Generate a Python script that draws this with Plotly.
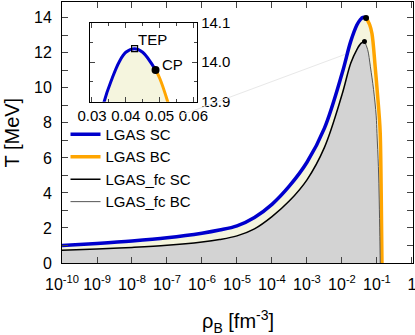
import plotly.graph_objects as go

# LGAS spinodal (SC) and binodal (BC) curves, rho_B in fm^-3, T in MeV
rho_sc = [1e-10, 1e-9, 1e-8, 1e-7, 1e-6, 3.16e-6, 1e-5, 3.16e-5, 1e-4, 3.16e-4,
          1e-3, 3.16e-3, 1e-2, 0.0178, 0.0269, 0.0336, 0.036, 0.038, 0.040, 0.0426,
          0.045, 0.0488]
T_sc = [1.0, 1.12, 1.26, 1.44, 1.7, 1.88, 2.12, 2.6, 3.35, 4.4,
        5.75, 7.7, 10.8, 12.65, 13.6, 13.9, 13.96, 14.0, 14.025, 14.034,
        14.025, 13.98]
rho_bc = [0.0488, 0.050, 0.0524, 0.062, 0.072, 0.089, 0.107, 0.116, 0.124, 0.133, 0.139]
T_bc = [13.98, 13.96, 13.9, 13.6, 13.1, 11.2, 9.3, 8.4, 7.4, 3.6, 0.0]

# LGAS_fc curves
rho_fsc = [1e-10, 1e-9, 1e-8, 1e-7, 1e-6, 3.16e-6, 1e-5, 3.16e-5, 1e-4, 3.16e-4,
           1e-3, 3.16e-3, 1e-2, 0.0178, 0.0269, 0.0355, 0.044]
T_fsc = [0.73, 0.8, 0.89, 1.01, 1.2, 1.34, 1.55, 1.95, 2.65, 3.55,
         4.75, 6.6, 9.6, 11.4, 12.2, 12.55, 12.65]
rho_fbc = [0.044, 0.054, 0.065, 0.08, 0.095, 0.1, 0.11, 0.116, 0.121, 0.124]
T_fbc = [12.65, 12.2, 11.2, 9.9, 8.4, 7.4, 5.5, 3.6, 1.5, 0.0]

# special points
tep = (0.0426, 14.034)
cp = (0.0488, 13.98)
cp_fc = (0.044, 12.65)

x_tickvals = [1e-10, 1e-9, 1e-8, 1e-7, 1e-6, 1e-5, 1e-4, 1e-3, 1e-2, 1e-1, 1]
x_ticktext = ["10<sup>-10</sup>", "10<sup>-9</sup>", "10<sup>-8</sup>", "10<sup>-7</sup>",
              "10<sup>-6</sup>", "10<sup>-5</sup>", "10<sup>-4</sup>", "10<sup>-3</sup>",
              "10<sup>-2</sup>", "10<sup>-1</sup>", "1"]

BLUE = "#0000cc"
ORANGE = "#ffa500"
BEIGE = "rgb(245,245,222)"
GREY = "rgb(211,211,211)"
FONT = "Liberation Sans, Arial, sans-serif"

fig = go.Figure()

# fills
fig.add_trace(go.Scatter(x=rho_sc + rho_bc[1:], y=T_sc + T_bc[1:], mode="lines",
                         fill="tozeroy", fillcolor=BEIGE, line=dict(width=0, shape="spline"),
                         showlegend=False, hoverinfo="skip"))
fig.add_trace(go.Scatter(x=rho_fsc + rho_fbc[1:], y=T_fsc + T_fbc[1:], mode="lines",
                         fill="tozeroy", fillcolor=GREY, line=dict(width=0, shape="spline"),
                         showlegend=False, hoverinfo="skip"))

# lines
fig.add_trace(go.Scatter(x=rho_sc, y=T_sc, mode="lines", name="LGAS SC",
                         line=dict(color=BLUE, width=3.5, shape="spline")))
fig.add_trace(go.Scatter(x=rho_bc, y=T_bc, mode="lines", name="LGAS BC",
                         line=dict(color=ORANGE, width=3.5, shape="spline")))
fig.add_trace(go.Scatter(x=rho_fsc, y=T_fsc, mode="lines", name="LGAS_fc SC",
                         line=dict(color="black", width=1.5, shape="spline")))
fig.add_trace(go.Scatter(x=rho_fbc, y=T_fbc, mode="lines", name="LGAS_fc BC",
                         line=dict(color="#555555", width=1, shape="spline")))

# critical points
fig.add_trace(go.Scatter(x=[cp[0]], y=[cp[1]], mode="markers", showlegend=False,
                         marker=dict(color="black", size=6)))
fig.add_trace(go.Scatter(x=[cp_fc[0]], y=[cp_fc[1]], mode="markers", showlegend=False,
                         marker=dict(color="black", size=5)))

# inset
in_sc = [(r, t) for r, t in zip(rho_sc, T_sc) if r > 0.02]
in_bc = [(r, t) for r, t in zip(rho_bc, T_bc) if r < 0.08]
in_all = in_sc + in_bc[1:]
fig.add_trace(go.Scatter(x=[p[0] for p in in_all], y=[p[1] for p in in_all],
                         xaxis="x2", yaxis="y2", mode="lines", fill="tozeroy",
                         fillcolor=BEIGE, line=dict(width=0, shape="spline"),
                         showlegend=False, hoverinfo="skip"))
fig.add_trace(go.Scatter(x=[p[0] for p in in_sc], y=[p[1] for p in in_sc],
                         xaxis="x2", yaxis="y2", mode="lines", showlegend=False,
                         line=dict(color=BLUE, width=3, shape="spline")))
fig.add_trace(go.Scatter(x=[p[0] for p in in_bc], y=[p[1] for p in in_bc],
                         xaxis="x2", yaxis="y2", mode="lines", showlegend=False,
                         line=dict(color=ORANGE, width=3, shape="spline")))
fig.add_trace(go.Scatter(x=[tep[0]], y=[tep[1]], xaxis="x2", yaxis="y2", mode="markers",
                         showlegend=False,
                         marker=dict(symbol="square-open", color="black", size=6,
                                     line=dict(width=1.2))))
fig.add_trace(go.Scatter(x=[cp[0]], y=[cp[1]], xaxis="x2", yaxis="y2", mode="markers",
                         showlegend=False, marker=dict(color="black", size=8)))

fig.update_layout(
    width=415, height=335,
    margin=dict(l=62, r=2, t=2, b=72),
    paper_bgcolor="white", plot_bgcolor="white",
    font=dict(family=FONT, size=16, color="black"),
    xaxis=dict(type="log", range=[-10, 0.03], tickvals=x_tickvals, ticktext=x_ticktext,
               ticks="inside", ticklen=6, showline=True, linecolor="black", mirror="ticks",
               showgrid=False, zeroline=False, ticklabelstandoff=7, automargin=False,
               ticklabeloverflow="allow"),
    yaxis=dict(range=[0, 14.9], tick0=0, dtick=2, ticks="inside", ticklen=6,
               minor=dict(dtick=1, ticks="inside", ticklen=6, showgrid=False),
               showline=True, linecolor="black", mirror="ticks", automargin=False,
               showgrid=False, zeroline=False, ticklabelstandoff=6),
    xaxis2=dict(domain=[0.0806, 0.385], anchor="y2", range=[0.0295, 0.0611],
                tick0=0.03, dtick=0.01, tickformat=".2f", ticks="inside", ticklen=5,
                minor=dict(dtick=0.005, ticks="inside", ticklen=3),
                showline=True, linecolor="black", mirror="ticks", showgrid=False,
                zeroline=False, tickfont=dict(size=15), automargin=False),
    yaxis2=dict(domain=[0.618, 0.921], anchor="x2", side="right", range=[13.9, 14.1],
                tick0=13.9, dtick=0.1, tickformat=".1f", ticks="inside", ticklen=5,
                minor=dict(dtick=0.05, ticks="inside", ticklen=3),
                showline=True, linecolor="black", mirror="ticks", showgrid=False,
                zeroline=False, tickfont=dict(size=15), automargin=False),
    legend=dict(x=0.01, y=0.556, xanchor="left", yanchor="top", bgcolor="rgba(0,0,0,0)",
                font=dict(size=15), tracegroupgap=0),
    annotations=[
        dict(x=0.5, y=0, xref="paper", yref="paper", text="ρ<sub>B</sub> [fm<sup>-3</sup>]",
             showarrow=False, xanchor="center", yanchor="middle", yshift=-58,
             font=dict(size=20)),
        dict(x=0, y=0.5, xref="paper", yref="paper", text="T [MeV]", textangle=-90,
             showarrow=False, xanchor="center", yanchor="middle", xshift=-51,
             font=dict(size=20)),
        dict(x=tep[0], y=tep[1], xref="x2", yref="y2", text="TEP", showarrow=False,
             xanchor="left", yanchor="bottom", xshift=1, yshift=-1, font=dict(size=15)),
        dict(x=cp[0], y=cp[1], xref="x2", yref="y2", text="CP", showarrow=False,
             xanchor="left", yanchor="middle", xshift=4, yshift=6, font=dict(size=15)),
    ],
    shapes=[dict(type="line", xref="paper", yref="paper", x0=0.337, y0=0.565,
                 x1=0.806, y1=0.799, line=dict(color="rgb(232,232,232)", width=1))],
)

fig.write_html("out.html", config={"displayModeBar": False},
               post_script="document.body.style.margin='0';")
